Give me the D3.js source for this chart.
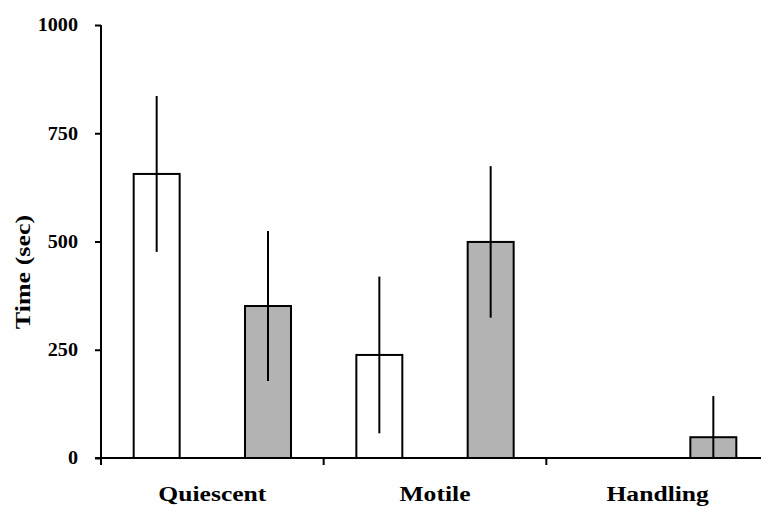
<!DOCTYPE html>
<html>
<head>
<meta charset="utf-8">
<script src="https://cdn.jsdelivr.net/npm/d3@7"></script>
<style>
  body { margin: 0; background: #fff; }
  svg text { font-family: "Liberation Serif", "Times New Roman", serif; font-weight: bold; }
</style>
</head>
<body>
<svg id="chart" width="761" height="511"></svg>
<script>
// categories and the two series (open and shaded bars)
var categories  = ["Quiescent", "Motile", "Handling"];
var seriesNames = ["open", "shaded"];
var openMean    = [656, 238, 0];
var openErr     = [180, 181, 0];
var shadedMean  = [351, 499, 48];
var shadedErr   = [173, 175, 95];
var yTicks      = [0, 250, 500, 750, 1000];

var svg = d3.select("#chart");
var x0 = 101, xEnd = 769, yTop = 25, yBase = 458;

var x = d3.scaleBand().domain(categories).range([x0, xEnd]);
var xs = d3.scaleBand().domain(seriesNames).range([0, x.bandwidth()]).paddingInner(0.587).paddingOuter(0.2935);
var y = d3.scaleLinear().domain([0, 1000]).range([yBase, yTop]);

//build rows from arrays
var rows = [];
categories.forEach(function(c, i){
    rows.push({cat: c, s: "open",   v: openMean[i],   e: openErr[i]});
    rows.push({cat: c, s: "shaded", v: shadedMean[i], e: shadedErr[i]});
});
rows = rows.filter(function(d){ return d.v > 0; });

//bars
svg.selectAll("rect.bar").data(rows).enter().append("rect")
    .attr("class", "bar")
    .attr("x", function(d){ return x(d.cat) + xs(d.s); })
    .attr("width", xs.bandwidth())
    .attr("y", function(d){ return y(d.v); })
    .attr("height", function(d){ return y(0) - y(d.v); })
    .attr("fill", function(d){ return d.s == "open" ? "#ffffff" : "#b3b3b3"; })
    .attr("stroke", "#000")
    .attr("stroke-width", 2);

//error bars (no caps, clipped at zero)
svg.selectAll("line.err").data(rows).enter().append("line")
    .attr("class", "err")
    .attr("x1", function(d){ return x(d.cat) + xs(d.s) + xs.bandwidth()/2; })
    .attr("x2", function(d){ return x(d.cat) + xs(d.s) + xs.bandwidth()/2; })
    .attr("y1", function(d){ return y(d.v + d.e); })
    .attr("y2", function(d){ return y(Math.max(0, d.v - d.e)); })
    .attr("stroke", "#000")
    .attr("stroke-width", 2);

//y axis
var yAxis = d3.axisLeft(y).tickValues(yTicks).tickSize(6).tickFormat(d3.format("d"));
var gy = svg.append("g").attr("transform", "translate(" + x0 + ",0)").call(yAxis);
gy.select(".domain").attr("d", "M0," + yTop + "V" + yBase).attr("stroke-width", 2);
gy.selectAll(".tick line").attr("stroke-width", 2);
gy.selectAll(".tick text")
    .attr("x", 0)
    .attr("transform", "translate(-23,0) scale(1.12,1)")
    .attr("font-size", 18).attr("font-family", "Liberation Serif").attr("font-weight", "bold");

//x axis
var xAxis = d3.axisBottom(x).tickSize(0).tickPadding(29);
var gx = svg.append("g").attr("transform", "translate(0," + yBase + ")").call(xAxis);
gx.select(".domain").attr("d", "M" + (x0 - 6) + ",0H" + xEnd).attr("stroke-width", 2);
gx.selectAll(".tick text")
    .attr("transform", "scale(1.28,1)")
    .attr("font-size", 20).attr("font-family", "Liberation Serif").attr("font-weight", "bold");

//category separator ticks
var sepTicks = categories.map(function(c){ return x(c); });
gx.selectAll("line.sep").data(sepTicks).enter().append("line")
    .attr("class", "sep")
    .attr("x1", function(d){ return d; }).attr("x2", function(d){ return d; })
    .attr("y1", 0).attr("y2", 7)
    .attr("stroke", "#000").attr("stroke-width", 2);

//y title
svg.append("text")
    .attr("transform", "translate(30,272) rotate(-90) scale(1.3,1)")
    .attr("text-anchor", "middle")
    .attr("font-size", 20)
    .text("Time (sec)");
</script>
</body>
</html>
